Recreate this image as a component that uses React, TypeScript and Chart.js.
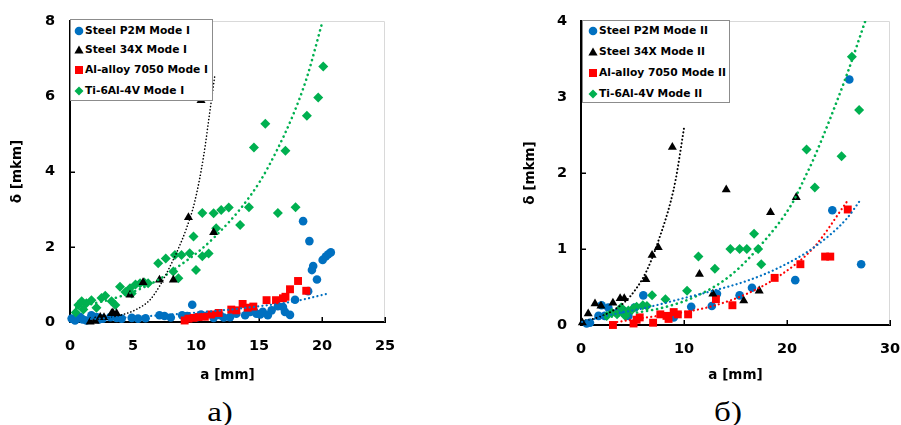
import React, { useEffect, useRef } from "react";
import { Chart, registerables } from "chart.js";

Chart.register(...registerables);

// ---------- Mode I (left) ----------
const p2mI: [number, number][] = [
  [0.13, 0.09], [0.4, 0.04], [0.6, 0.1], [0.8, 0.13], [1.0, 0.07], [1.3, 0.04], [1.7, 0.18], [2.1, 0.13],
  [2.3, 0.07], [2.6, 0.09], [3.2, 0.13], [3.7, 0.11], [4.1, 0.09], [4.9, 0.11], [5.4, 0.09], [6.0, 0.1],
  [7.1, 0.18], [7.5, 0.16], [8.0, 0.12], [8.9, 0.18], [9.3, 0.16], [9.7, 0.46], [10.1, 0.13], [10.4, 0.2],
  [10.7, 0.16], [11.4, 0.11], [11.9, 0.18], [12.2, 0.12], [12.7, 0.13], [13.2, 0.22], [13.9, 0.18],
  [14.3, 0.27], [14.6, 0.3], [14.8, 0.22], [15.1, 0.2], [15.3, 0.27], [15.7, 0.18], [16.0, 0.31],
  [16.5, 0.42], [16.9, 0.4], [17.06, 0.27], [17.46, 0.19], [17.86, 0.59], [18.9, 0.82], [18.5, 2.68],
  [19.0, 2.15], [19.2, 1.38], [19.3, 1.49], [19.6, 1.13], [20.05, 1.65], [20.3, 1.74], [20.5, 1.8], [20.7, 1.85],
];
const s34xI: [number, number][] = [
  [1.6, 0.0], [2.0, 0.02], [2.4, 0.13], [2.7, 0.12], [3.3, 0.23], [3.4, 0.25], [3.7, 0.23], [4.76, 0.72],
  [5.8, 1.05], [7.1, 1.12], [8.2, 1.12], [9.4, 2.78], [10.4, 5.89], [11.4, 2.38],
];
const alI: [number, number][] = [
  [9.1, 0.04], [9.4, 0.09], [9.8, 0.11], [10.2, 0.13], [10.7, 0.14], [11.2, 0.2], [11.8, 0.24], [12.8, 0.33],
  [13.2, 0.31], [13.7, 0.48], [14.1, 0.38], [14.55, 0.41], [15.6, 0.58], [16.35, 0.58], [16.9, 0.63],
  [17.1, 0.67], [17.46, 0.87], [18.1, 1.09], [18.75, 0.83],
];
const tiI: [number, number][] = [
  [0.45, 0.25], [0.66, 0.45], [0.93, 0.55], [1.06, 0.33], [1.3, 0.5], [1.7, 0.58], [2.1, 0.38], [2.5, 0.64],
  [2.8, 0.7], [3.3, 0.55], [3.6, 0.45], [3.97, 0.94], [4.4, 0.8], [4.76, 0.9], [4.9, 0.76], [5.2, 1.0],
  [5.56, 1.03], [5.9, 1.05], [6.2, 1.03], [7.0, 1.56], [7.6, 1.69], [8.2, 1.34], [8.33, 1.78], [8.6, 1.16],
  [8.85, 1.78], [9.5, 1.83], [9.8, 2.27], [10.0, 1.38], [10.5, 1.75], [10.5, 2.9], [11.0, 1.82], [11.4, 2.89],
  [11.6, 2.49], [12.0, 2.98], [12.6, 3.04], [13.5, 2.58], [14.2, 3.05], [14.6, 4.64], [15.5, 5.27],
  [16.5, 2.9], [17.1, 4.55], [17.9, 3.05], [18.8, 5.48], [19.7, 5.97], [20.1, 6.79],
];
// trend lines
const p2mTrendI: [number, number][] = [
  [0.3, 0.06], [2.4, 0.09], [5, 0.13], [7.7, 0.19], [10, 0.25], [13, 0.34], [15, 0.42], [16.9, 0.5], [18.25, 0.58], [20.4, 0.75],
];
const s34xTrendI: [number, number][] = [
  [1.5, 0.04], [2.5, 0.08], [4.1, 0.19], [5.3, 0.34], [6.35, 0.59], [7.1, 0.95], [7.9, 1.45], [8.6, 1.95],
  [9.2, 2.45], [9.9, 3.2], [10.6, 4.4], [11.1, 5.6], [11.5, 6.57],
];
const tiTrendI: [number, number][] = [
  [0.5, 0.38], [2, 0.5], [3.2, 0.6], [5, 0.8], [6.9, 1.1], [8.7, 1.5], [10.3, 1.9], [11.6, 2.3], [13.5, 3.0],
  [15.1, 3.75], [16.4, 4.55], [17.7, 5.5], [18.8, 6.5], [20.05, 8.0],
];

// ---------- Mode II (right) ----------
const p2mII: [number, number][] = [
  [0.55, 0.02], [0.87, 0.03], [1.7, 0.12], [2.0, 0.26], [2.3, 0.12], [2.65, 0.23], [3.5, 0.16], [4.1, 0.19],
  [4.6, 0.12], [5.2, 0.23], [6.05, 0.39], [9.0, 0.1], [10.7, 0.24], [12.7, 0.25], [13.2, 0.41], [15.4, 0.39],
  [16.6, 0.49], [20.8, 0.59], [24.4, 1.51], [26.05, 3.23], [27.2, 0.8],
];
const s34xII: [number, number][] = [
  [0.13, 0.03], [0.7, 0.15], [1.36, 0.28], [1.94, 0.25], [3.1, 0.29], [3.8, 0.35], [4.2, 0.35], [6.3, 0.6],
  [6.9, 0.92], [7.5, 1.02], [8.87, 2.34], [11.5, 0.67], [12.8, 0.41], [14.1, 1.78], [15.8, 0.32],
  [17.3, 0.45], [18.4, 1.48], [20.9, 1.68],
];
const alII: [number, number][] = [
  [3.1, 0.0], [5.1, 0.02], [5.4, 0.07], [5.7, 0.1], [7.0, 0.03], [7.7, 0.14], [8.3, 0.12], [8.5, 0.08],
  [9.0, 0.17], [9.4, 0.14], [10.4, 0.14], [13.1, 0.34], [14.7, 0.26], [18.8, 0.62], [21.3, 0.8], [23.7, 0.9],
  [24.2, 0.9], [25.9, 1.52],
];
const tiII: [number, number][] = [
  [2.5, 0.12], [3.0, 0.16], [3.5, 0.14], [3.9, 0.23], [4.3, 0.12], [4.6, 0.19], [5.1, 0.22], [5.4, 0.24],
  [6.0, 0.26], [6.4, 0.25], [6.9, 0.39], [8.2, 0.34], [10.3, 0.45], [11.4, 0.9], [13.0, 0.74], [14.5, 1.0],
  [15.4, 1.0], [16.1, 1.0], [16.8, 1.2], [17.2, 1.0], [17.5, 0.8], [21.9, 2.31], [22.7, 1.81], [25.3, 2.22],
  [26.3, 3.53], [27.0, 2.83],
];
const p2mTrendII: [number, number][] = [
  [0.1, 0.04], [3.1, 0.14], [6.4, 0.23], [9.6, 0.34], [12.8, 0.45], [16.1, 0.58], [19.3, 0.76], [22.6, 1.02], [25.8, 1.4], [27.1, 1.64],
];
const s34xTrendII: [number, number][] = [
  [0.1, 0.05], [1.2, 0.08], [3.1, 0.19], [4.8, 0.38], [6.4, 0.72], [7.7, 1.18], [8.7, 1.62], [9.2, 1.92], [10, 2.59],
];
const alTrendII: [number, number][] = [
  [3.1, 0.03], [6.4, 0.1], [9.6, 0.16], [12.8, 0.25], [16.1, 0.41], [19.3, 0.65], [22.6, 1.02], [25.8, 1.62],
];
const tiTrendII: [number, number][] = [
  [2.5, 0.1], [4.8, 0.15], [8, 0.23], [11.2, 0.38], [14.5, 0.65], [17.7, 1.09], [20.5, 1.6], [21.7, 1.93],
  [22.6, 2.19], [25.8, 3.29], [27.6, 4.0],
];

const labelsI = ["Steel P2M Mode I", "Steel 34X Mode I", "Al-alloy 7050 Mode I", "Ti-6Al-4V Mode I"];
const labelsII = ["Steel P2M Mode II", "Steel 34X Mode II", "Al-alloy 7050 Mode II", "Ti-6Al-4V Mode II"];
const xTitle = "a [mm]";
const yTitle = "δ [mkm]";

const BLUE = "#0070C0";
const BLACK = "#000000";
const RED = "#FF0000";
const GREEN = "#00B050";
const colors = [BLUE, BLACK, RED, GREEN];
const shapes = ["circle", "triangle", "rect", "rectRot"];
const radii = [4.3, 5.2, 5.6, 5.0];

const SANS = "'DejaVu Sans', sans-serif";

type Pts = [number, number][];

const framePlugin = {
  id: "frameTicks",
  beforeDatasetsDraw(chart: any) {
    const { ctx, chartArea: a } = chart;
    ctx.save();
    ctx.strokeStyle = "#d9d9d9";
    ctx.lineWidth = 1;
    ctx.beginPath();
    ctx.moveTo(a.left, a.top + 0.5);
    ctx.lineTo(a.right - 0.5, a.top + 0.5);
    ctx.lineTo(a.right - 0.5, a.bottom);
    ctx.stroke();
    ctx.strokeStyle = "#000";
    ctx.lineWidth = 1.5;
    ctx.beginPath();
    const xs = chart.scales.x;
    const ys = chart.scales.y;
    xs.ticks.forEach((t: any) => {
      const px = Math.round(xs.getPixelForValue(t.value)) + 0.25;
      ctx.moveTo(px, a.bottom);
      ctx.lineTo(px, a.bottom - 5);
    });
    ys.ticks.forEach((t: any) => {
      const py = Math.round(ys.getPixelForValue(t.value)) + 0.25;
      ctx.moveTo(a.left, py);
      ctx.lineTo(a.left + 5, py);
    });
    ctx.stroke();
    ctx.restore();
  },
};

interface PanelProps {
  left: number;
  width: number;
  height: number;
  yAxisW: number;
  xAxisH: number;
  padRight: number;
  xMax: number;
  xStep: number;
  yMax: number;
  yStep: number;
  yTickPad: number;
  yTitlePad: number;
  series: Pts[];
  trends: (Pts | null)[];
  trendWidths: number[];
  trendDash: number[][];
}

function Panel(p: PanelProps) {
  const ref = useRef<HTMLCanvasElement>(null);
  useEffect(() => {
    if (!ref.current) return;
    const datasets: any[] = [];
    p.trends.forEach((tr, i) => {
      if (!tr) return;
      datasets.push({
        data: tr.map(([x, y]) => ({ x, y })),
        showLine: true,
        pointRadius: 0,
        borderColor: colors[i],
        borderWidth: p.trendWidths[i],
        borderDash: p.trendDash[i],
        borderCapStyle: "round",
        cubicInterpolationMode: "monotone",
        order: 0,
      });
    });
    const orders = [4, 1, 3, 2];
    p.series.forEach((s, i) => {
      datasets.push({
        data: s.map(([x, y]) => ({ x, y })),
        showLine: false,
        pointStyle: shapes[i],
        pointRadius: radii[i],
        backgroundColor: colors[i],
        borderColor: colors[i],
        borderWidth: 0,
        clip: false,
        order: orders[i],
      });
    });
    const tickFont = { family: SANS, size: 14.5, weight: "bold" as const };
    const titleFont = { family: SANS, size: 13.5, weight: "bold" as const };
    const chart = new Chart(ref.current, {
      type: "scatter",
      data: { datasets },
      plugins: [framePlugin],
      options: {
        animation: false,
        responsive: false,
        maintainAspectRatio: false,
        layout: { padding: { top: 21, right: p.padRight, left: 0, bottom: 0 } },
        plugins: { legend: { display: false }, tooltip: { enabled: false } },
        scales: {
          x: {
            type: "linear",
            min: 0,
            max: p.xMax,
            afterFit: (s: any) => {
              s.height = p.xAxisH;
              s.paddingLeft = 0;
              s.paddingRight = 0;
            },
            ticks: { stepSize: p.xStep, font: tickFont, color: "#000", padding: 16, maxRotation: 0 },
            grid: { display: false, drawTicks: false },
            border: { display: true, color: "#000", width: 2 },
            title: { display: true, text: xTitle, font: titleFont, color: "#000", padding: { top: 0, bottom: 6.6 } },
          },
          y: {
            type: "linear",
            min: 0,
            max: p.yMax,
            afterFit: (s: any) => {
              s.width = p.yAxisW;
              s.paddingTop = 0;
              s.paddingBottom = 0;
            },
            ticks: { stepSize: p.yStep, font: tickFont, color: "#000", padding: p.yTickPad },
            grid: { display: false, drawTicks: false },
            border: { display: true, color: "#000", width: 2 },
            title: { display: true, text: yTitle, font: titleFont, color: "#000", padding: { top: p.yTitlePad, bottom: 0 } },
          },
        },
      } as any,
    });
    return () => chart.destroy();
  }, []);
  return (
    <canvas
      ref={ref}
      width={p.width}
      height={p.height}
      style={{ position: "absolute", left: p.left, top: 0, width: p.width, height: p.height }}
    />
  );
}

function Marker({ i }: { i: number }) {
  const c = colors[i];
  let shape: any;
  if (i === 0) shape = <circle cx={5} cy={5} r={4.3} fill={c} />;
  else if (i === 1) shape = <polygon points="5,0.6 9.6,8.6 0.4,8.6" fill={c} />;
  else if (i === 2) shape = <rect x={1} y={1} width={8} height={8} fill={c} />;
  else shape = <polygon points="5,0.5 9.5,5 5,9.5 0.5,5" fill={c} />;
  return (
    <svg width={10} height={10} style={{ position: "absolute", left: -5, top: -5 }}>
      {shape}
    </svg>
  );
}

interface LegendProps {
  left: number;
  top: number;
  width: number;
  height: number;
  labels: string[];
  rowYs: number[];
  markerX: number;
  textX: number;
}

function Legend(l: LegendProps) {
  return (
    <div
      style={{
        position: "absolute",
        left: l.left,
        top: l.top,
        width: l.width,
        height: l.height,
        border: "1px solid #8c8c8c",
        background: "#fff",
        boxSizing: "border-box",
      }}
    >
      {l.labels.map((lab, i) => (
        <React.Fragment key={lab}>
          <div style={{ position: "absolute", left: l.markerX, top: l.rowYs[i] }}>
            <Marker i={i} />
          </div>
          <div
            style={{
              position: "absolute",
              left: l.textX,
              top: l.rowYs[i] - 8,
              height: 16,
              lineHeight: "16px",
              fontFamily: SANS,
              fontWeight: "bold",
              fontSize: 10.7,
              color: "#000",
              whiteSpace: "nowrap",
            }}
          >
            {lab}
          </div>
        </React.Fragment>
      ))}
    </div>
  );
}

function Caption({ x, y, text }: { x: number; y: number; text: string }) {
  return (
    <div
      style={{
        position: "absolute",
        left: x,
        top: y,
        transform: "translate(-50%, -50%) scaleX(1.18)",
        fontFamily: "'Liberation Serif', serif",
        fontSize: 28,
        lineHeight: 1,
        color: "#000",
        whiteSpace: "nowrap",
      }}
    >
      {text}
    </div>
  );
}

export default function App() {
  return (
    <div style={{ position: "absolute", left: 0, top: 0, width: 901, height: 425, background: "#fff", overflow: "hidden" }}>
      <Panel
        left={0}
        width={400}
        height={390}
        yAxisW={70}
        xAxisH={68}
        padRight={15}
        xMax={25}
        xStep={5}
        yMax={8}
        yStep={2}
        yTickPad={15}
        yTitlePad={9.6}
        series={[p2mI, s34xI, alI, tiI]}
        trends={[p2mTrendI, s34xTrendI, null, tiTrendI]}
        trendWidths={[2.2, 1.6, 2.2, 2.6]}
        trendDash={[[0.1, 4.2], [0.1, 3.2], [0.1, 4.2], [0.1, 5]]}
      />
      <Panel
        left={505}
        width={396}
        height={390}
        yAxisW={76}
        xAxisH={65}
        padRight={11}
        xMax={30}
        xStep={10}
        yMax={4}
        yStep={1}
        yTickPad={14}
        yTitlePad={17.6}
        series={[p2mII, s34xII, alII, tiII]}
        trends={[p2mTrendII, s34xTrendII, alTrendII, tiTrendII]}
        trendWidths={[2.2, 2.0, 2.2, 2.6]}
        trendDash={[[0.1, 4.2], [0.1, 3.6], [0.1, 4.2], [0.1, 5]]}
      />
      <Legend left={70} top={19} width={143} height={82} labels={labelsI} rowYs={[11, 30, 50, 71]} markerX={8} textX={14} />
      <Legend left={582} top={20} width={148} height={83} labels={labelsII} rowYs={[10, 31, 52, 73]} markerX={10} textX={16} />
      <Caption x={220} y={412} text="а)" />
      <Caption x={728} y={412} text="б)" />
    </div>
  );
}
